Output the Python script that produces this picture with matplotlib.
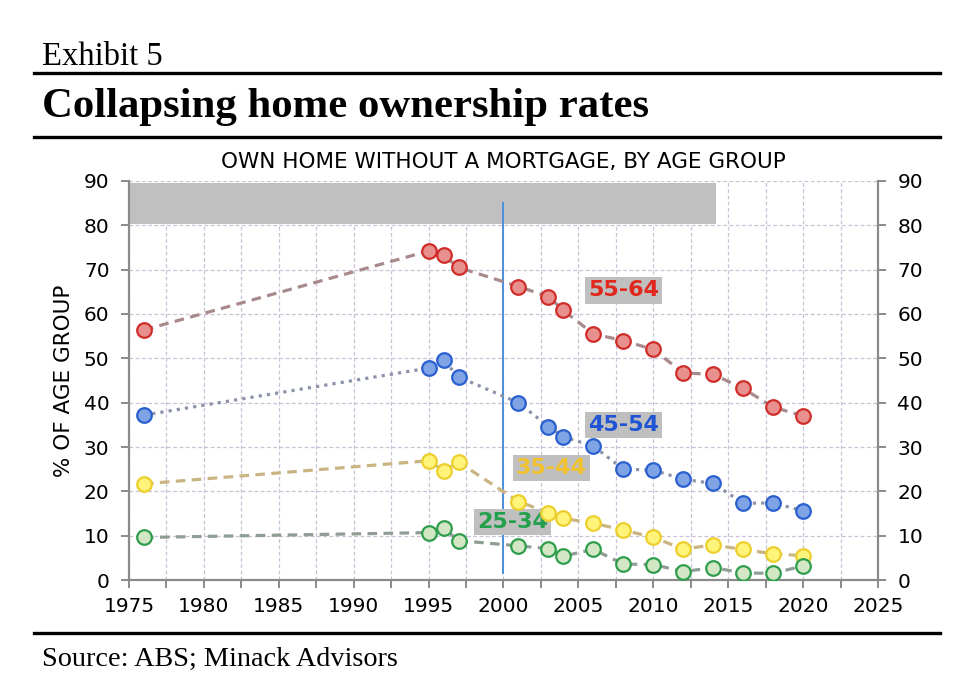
import matplotlib
matplotlib.use('Agg')
import matplotlib.pyplot as plt
import matplotlib.ticker as mticker
from matplotlib.lines import Line2D

plt.rcParams.update({'font.family': 'DejaVu Sans', 'figure.facecolor': 'white', 'axes.facecolor': 'white'})

# data
years = [1976, 1995, 1996, 1997, 2001, 2003, 2004, 2006, 2008, 2010, 2012, 2014, 2016, 2018, 2020]
age_55_64 = [56.4, 74.2, 73.2, 70.5, 66.2, 63.9, 60.8, 55.5, 54.0, 52.0, 46.7, 46.4, 43.2, 39.0, 37.0]
age_45_54 = [37.2, 47.8, 49.6, 45.8, 40.0, 34.6, 32.3, 30.2, 25.0, 24.8, 22.7, 21.8, 17.3, 17.4, 15.6]
age_35_44 = [21.7, 26.9, 24.7, 26.6, 17.7, 15.2, 13.9, 12.8, 11.3, 9.6, 7.0, 7.9, 6.9, 5.9, 5.5]
age_25_34 = [9.6, 10.7, 11.7, 8.9, 7.7, 7.1, 5.4, 6.9, 3.6, 3.5, 1.9, 2.8, 1.6, 1.5, 3.2]
group_names = ['55-64', '45-54', '35-44', '25-34']

# styling per series: line colour, line style, marker face, marker edge, label colour, label position
series = [
    (age_55_64, '#a98a8c', (0, (3, 2)), '#e8908e', '#d02c28', '#e0281e', (2008.0, 65.3)),
    (age_45_54, '#8a93a8', (0, (1, 1.6)), '#7ea4e6', '#2a5fd0', '#1f55d4', (2008.0, 35.0)),
    (age_35_44, '#c9b482', (0, (3, 2)), '#fff47a', '#eccf2c', '#f2c22e', (2003.2, 25.3)),
    (age_25_34, '#8f9e94', (0, (3, 2)), '#d3e7c4', '#2e9e4c', '#22a04c', (2000.6, 13.1)),
]

fig = plt.figure(figsize=(9.69, 6.99), dpi=100)
ax = fig.add_axes([0.1331, 0.1702, 0.7730, 0.5709])

ax.fill_between([1975, 2014.2], 80.3, 89.6, color='#c0c0c0', zorder=1, linewidth=0)
ax.plot([2000, 2000], [1.5, 85], color='#4a8fdc', lw=1.4, zorder=2)

for (vals, lc, ls, mf, me, tc, pos), name in zip(series, group_names):
    ax.plot(years, vals, color=lc, ls=ls, lw=2.3, zorder=3)
    ax.plot(years, vals, ls='none', marker='o', ms=10.5, mfc=mf, mec=me, mew=1.6, zorder=5)
    ax.text(pos[0], pos[1], name, color=tc, fontsize=16, fontweight='bold', ha='center', va='center',
            zorder=4, bbox=dict(boxstyle='square,pad=0.15', fc='#bfbfbf', ec='none'))

ax.set_xlim(1975, 2025)
ax.set_ylim(0, 90)
ax.xaxis.set_major_locator(mticker.MultipleLocator(5))
ax.xaxis.set_minor_locator(mticker.MultipleLocator(2.5))
ax.yaxis.set_major_locator(mticker.MultipleLocator(10))
ax.grid(True, which='both', axis='x', color='#c9c2d6', ls=(0, (3, 2)), lw=0.9, zorder=0)
ax.grid(True, which='major', axis='y', color='#c9c2d6', ls=(0, (3, 2)), lw=0.9, zorder=0)
ax.set_axisbelow(True)

for s in ['left', 'bottom', 'right']:
    ax.spines[s].set_color('#8a8a8a')
    ax.spines[s].set_linewidth(1.6)
ax.spines['top'].set_visible(False)
ax.tick_params(which='both', direction='out', color='#8a8a8a', width=1.4, length=6,
               labelsize=14.5, right=True, labelright=True)
ax.tick_params(axis='y', pad=8)
ax.tick_params(axis='x', pad=6)

ax.set_ylabel('% OF AGE GROUP', fontsize=15.5, labelpad=7)
ax.set_title('OWN HOME WITHOUT A MORTGAGE, BY AGE GROUP', fontsize=15.5, pad=9)

# header / footer
serif = 'Liberation Serif'
fig.text(42 / 969, 1 - 65 / 699, 'Exhibit 5', fontsize=23.5, family=serif, va='baseline')
fig.text(42 / 969, 1 - 117 / 699, 'Collapsing home ownership rates', fontsize=30.8, family=serif,
         fontweight='bold', va='baseline')
fig.text(42 / 969, 1 - 666 / 699, 'Source: ABS; Minack Advisors', fontsize=20.3, family=serif, va='baseline')
for yy in [73, 137, 633]:
    fig.add_artist(Line2D([34 / 969, 940 / 969], [1 - yy / 699] * 2, color='black', lw=2.4))

plt.savefig('out.png', dpi=100)
